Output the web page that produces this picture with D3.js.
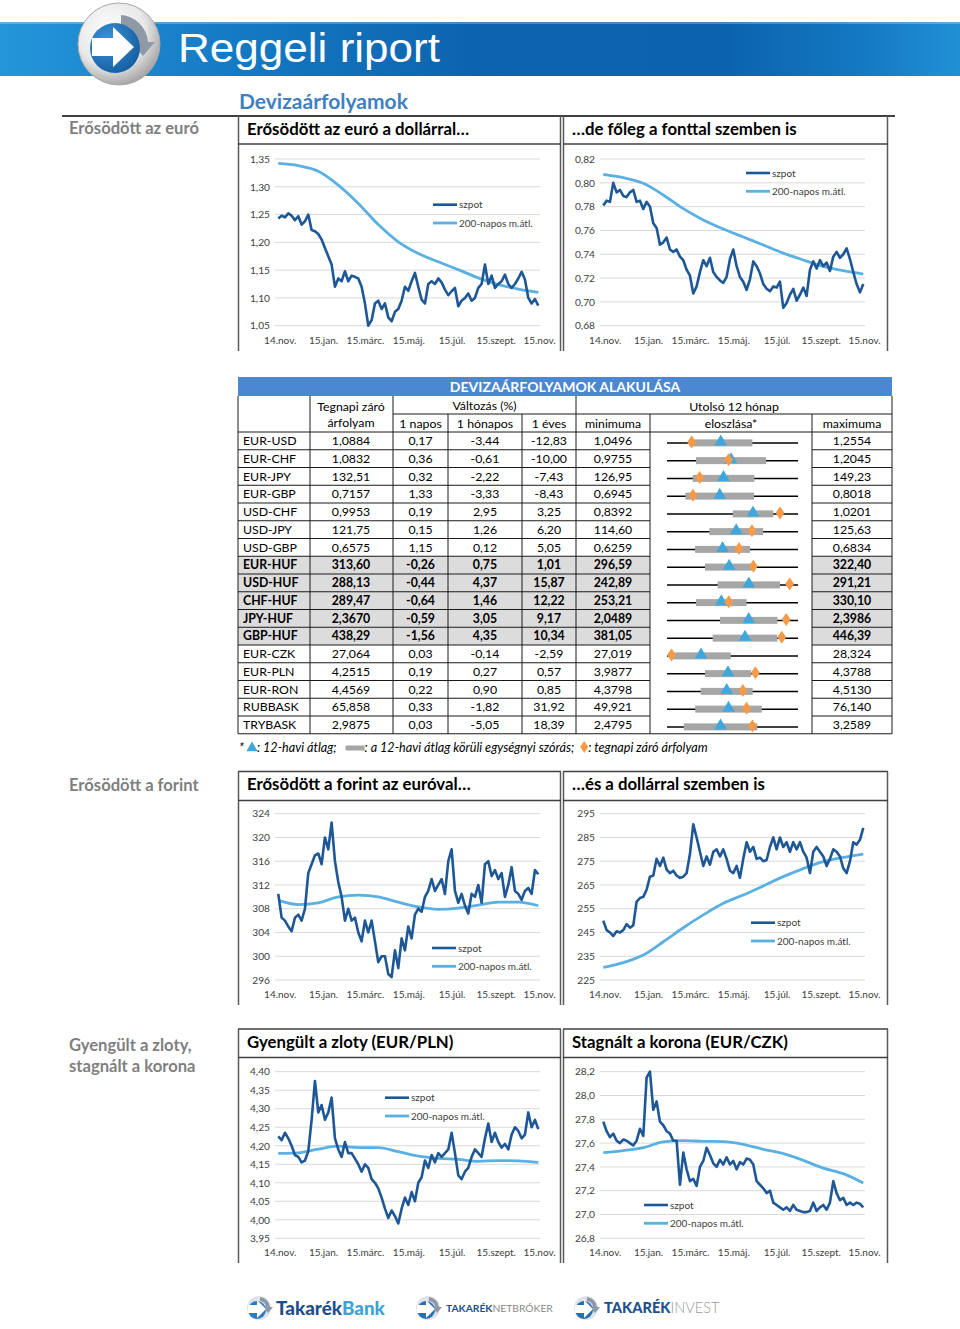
<!DOCTYPE html>
<html><head><meta charset="utf-8">
<script src="https://cdn.jsdelivr.net/npm/d3@7"></script>
<style>
body{margin:0;background:#fff;}
svg{display:block;font-family:Lato,'Open Sans',sans-serif;}
</style></head><body>
<svg id="page" width="960" height="1329"></svg>
<script>
// ===================== DATA =====================
const tickDates = ["2014-11-01","2015-01-01","2015-03-01","2015-05-01","2015-07-01","2015-09-01","2015-11-01"];
const tickLabels = ["14.nov.","15.jan.","15.márc.","15.máj.","15.júl.","15.szept.","15.nov."];
const seriesNames = ["szpot","200-napos m.átl."];
const dataStart = "2014-10-30", dataEnd = "2015-10-31";

const eurusdTicks = [1.05,1.10,1.15,1.20,1.25,1.30,1.35];
const eurusdSpot = [1.243,1.248,1.245,1.252,1.248,1.240,1.247,1.232,1.238,1.250,1.222,1.220,1.215,1.205,1.190,1.175,1.160,1.120,1.135,1.130,1.148,1.130,1.140,1.138,1.135,1.120,1.090,1.050,1.060,1.090,1.095,1.080,1.090,1.065,1.058,1.075,1.080,1.095,1.120,1.113,1.130,1.145,1.120,1.097,1.090,1.125,1.130,1.125,1.135,1.128,1.115,1.105,1.112,1.118,1.085,1.095,1.100,1.108,1.095,1.100,1.118,1.125,1.160,1.125,1.140,1.118,1.125,1.130,1.142,1.125,1.118,1.125,1.135,1.147,1.133,1.100,1.090,1.098,1.086];
const eurusdMA = [1.342,1.338,1.328,1.303,1.270,1.232,1.201,1.180,1.165,1.151,1.136,1.124,1.116,1.110];

const eurgbpTicks = [0.68,0.70,0.72,0.74,0.76,0.78,0.80,0.82];
const eurgbpSpot = [0.781,0.785,0.784,0.800,0.792,0.794,0.789,0.788,0.792,0.794,0.784,0.785,0.778,0.784,0.780,0.766,0.762,0.748,0.750,0.754,0.744,0.742,0.744,0.738,0.735,0.727,0.722,0.707,0.713,0.725,0.735,0.730,0.737,0.725,0.721,0.718,0.716,0.721,0.736,0.744,0.730,0.721,0.717,0.710,0.719,0.734,0.730,0.724,0.715,0.711,0.709,0.713,0.712,0.717,0.695,0.699,0.706,0.711,0.701,0.706,0.712,0.705,0.727,0.734,0.728,0.735,0.730,0.733,0.726,0.738,0.742,0.737,0.740,0.745,0.736,0.725,0.715,0.708,0.715];
const eurgbpMA = [0.8071,0.8043,0.7996,0.7898,0.7783,0.7688,0.7612,0.7545,0.7478,0.7410,0.7352,0.7298,0.7262,0.7234];

const eurhufTicks = [296,300,304,308,312,316,320,324];
const eurhufSpot = [310.5,306.5,306,305,304.2,306.5,307,306,308,314,315.5,317,317.3,315.5,320,318,322.5,316,312.5,310,306,308,306,306.5,304,302.5,306,304,306,302.5,299,300,300,297,296.5,301,298,303,301,305,303,307,308,307.5,310,311,313,311,312,313,310.5,316,318,311,309,310.5,308.5,307.2,310.5,310,312,309,315.5,316,313.5,314.5,313,314,310,312,315,311,310.5,309.5,311,311.5,310.5,314.5,313.8];
const eurhufMA = [309.4,308.7,309.0,310.0,310.3,310.0,309.1,308.3,307.9,308.1,308.6,309.1,309.1,308.5];

const usdhufTicks = [225,235,245,255,265,275,285,295];
const usdhufSpot = [250,246,245,243.5,245.5,245,246,248.5,247,248,258,259.5,260,263,268.5,269,276,273,276.5,271.5,270,271,269,268,268.5,270,278,290.5,285,279,273,277,273.5,279,280,277,280,276,271,270,273,268,276,283,279,281,276,276.5,275,275.5,281,285,280,285,281,283,279,283,280,283,279,276.5,270,279,281,279,277,273,276,280,279,277,272,270,275,283,282,284,289];
const usdhufMA = [230.3,232.3,235.5,241.1,247.0,252.4,257.3,260.8,264.6,268.5,271.9,274.8,276.6,278.0];

const eurplnTicks = [3.95,4.00,4.05,4.10,4.15,4.20,4.25,4.30,4.35,4.40];
const eurplnSpot = [4.225,4.215,4.235,4.220,4.200,4.175,4.170,4.155,4.160,4.185,4.270,4.375,4.290,4.310,4.270,4.290,4.330,4.220,4.190,4.170,4.210,4.180,4.180,4.165,4.150,4.130,4.150,4.140,4.110,4.100,4.085,4.060,4.030,4.005,4.025,4.010,3.990,4.030,4.060,4.040,4.075,4.050,4.100,4.115,4.160,4.140,4.175,4.155,4.180,4.170,4.180,4.190,4.235,4.180,4.120,4.110,4.130,4.140,4.170,4.190,4.180,4.170,4.220,4.260,4.210,4.235,4.210,4.195,4.205,4.190,4.230,4.250,4.240,4.220,4.230,4.290,4.250,4.270,4.245];
const eurplnMA = [4.1795,4.181,4.191,4.199,4.195,4.195,4.184,4.172,4.166,4.163,4.158,4.160,4.159,4.155];

const eurczkTicks = [26.8,27.0,27.2,27.4,27.6,27.8,28.0,28.2];
const eurczkSpot = [27.78,27.70,27.65,27.68,27.62,27.60,27.63,27.62,27.60,27.58,27.62,27.72,27.66,28.15,28.20,27.88,27.95,27.78,27.75,27.70,27.68,27.62,27.62,27.25,27.52,27.38,27.28,27.30,27.24,27.40,27.45,27.56,27.50,27.43,27.40,27.46,27.42,27.48,27.42,27.45,27.38,27.44,27.42,27.47,27.46,27.42,27.28,27.25,27.22,27.18,27.20,27.10,27.08,27.06,27.04,27.06,27.03,27.08,27.04,27.03,27.02,27.02,27.03,27.10,27.03,27.06,27.08,27.04,27.10,27.28,27.18,27.12,27.14,27.08,27.10,27.08,27.10,27.09,27.06];
const eurczkMA = [27.520,27.537,27.562,27.610,27.621,27.615,27.613,27.590,27.548,27.511,27.455,27.390,27.343,27.264];

// table
const pairs = ["EUR-USD","EUR-CHF","EUR-JPY","EUR-GBP","USD-CHF","USD-JPY","USD-GBP","EUR-HUF","USD-HUF","CHF-HUF","JPY-HUF","GBP-HUF","EUR-CZK","EUR-PLN","EUR-RON","RUBBASK","TRYBASK"];
const boldPairs = ["EUR-HUF","USD-HUF","CHF-HUF","JPY-HUF","GBP-HUF"];
const closeVals = [1.0884,1.0832,132.51,0.7157,0.9953,121.75,0.6575,313.60,288.13,289.47,2.3670,438.29,27.064,4.2515,4.4569,65.858,2.9875];
const decimals = [4,4,2,4,4,2,4,2,2,2,4,2,3,4,4,3,4];
const chg1d = [0.17,0.36,0.32,1.33,0.19,0.15,1.15,-0.26,-0.44,-0.64,-0.59,-1.56,0.03,0.19,0.22,0.33,0.03];
const chg1m = [-3.44,-0.61,-2.22,-3.33,2.95,1.26,0.12,0.75,4.37,1.46,3.05,4.35,-0.14,0.27,0.90,-1.82,-5.05];
const chg1y = [-12.83,-10.00,-7.43,-8.43,3.25,6.20,5.05,1.01,15.87,12.22,9.17,10.34,-2.59,0.57,0.85,31.92,18.39];
const minVals = [1.0496,0.9755,126.95,0.6945,0.8392,114.60,0.6259,296.59,242.89,253.21,2.0489,381.05,27.019,3.9877,4.3798,49.921,2.4795];
const maxVals = [1.2554,1.2045,149.23,0.8018,1.0201,125.63,0.6834,322.40,291.21,330.10,2.3986,446.39,28.324,4.3788,4.5130,76.140,3.2589];
const avgVals = [1.134,1.0874,136.56,0.7377,0.958,120.43,0.6503,308.84,273.06,285.08,2.267,419.95,27.358,4.1698,4.4405,62.23,2.7978];
const sdVals = [0.0497,0.0612,5.24,0.0281,0.028,2.27,0.01207,4.77,11.51,14.85,0.0766,16.11,0.296,0.0687,0.0264,6.66,0.2184];

// ===================== DRAW =====================
const loc = d3.formatLocale({decimal:",",thousands:" ",grouping:[3],currency:["",""],minus:"-"});
const parse = d3.timeParse("%Y-%m-%d");
const svg = d3.select("#page");
const defs = svg.append("defs");
const SPOT = "#1d5796", MA = "#5ab0e2", AX = "#404040";

// header band
const bg = defs.append("linearGradient").attr("id","band");
[[0,"#2596da"],[0.25,"#1479c3"],[0.5,"#0d63ad"],[0.75,"#0c62ac"],[0.9,"#1479c2"],[1,"#2290d5"]]
  .forEach(([o,c])=>bg.append("stop").attr("offset",o).attr("stop-color",c));
svg.append("rect").attr("x",0).attr("y",22).attr("width",960).attr("height",54).attr("fill","url(#band)");
svg.append("rect").attr("x",0).attr("y",22).attr("width",960).attr("height",2).attr("fill","#ffffff").attr("opacity",0.25);

// logo
const rg = defs.append("radialGradient").attr("id","ring").attr("cx","40%").attr("cy","35%").attr("r","70%");
[[0,"#ffffff"],[0.6,"#e9e9e9"],[1,"#9c9c9c"]].forEach(([o,c])=>rg.append("stop").attr("offset",o).attr("stop-color",c));
const dg = defs.append("radialGradient").attr("id","disc").attr("cx","35%").attr("cy","35%").attr("r","75%");
[[0,"#3f95d8"],[1,"#135a9e"]].forEach(([o,c])=>dg.append("stop").attr("offset",o).attr("stop-color",c));
const logo = svg.append("g").attr("transform","translate(119,44)");
logo.append("circle").attr("r",41).attr("fill","url(#ring)").attr("stroke","#a8a8a8").attr("stroke-width",1);
logo.append("path").attr("d","M 2 -29 A 29 29 0 0 1 29 -2 L 36 -2 L 24 12 L 12 -2 L 19 -2 A 19 19 0 0 0 2 -19 Z").attr("fill","#8f9aa6");
logo.append("circle").attr("cx",-4).attr("cy",4).attr("r",25).attr("fill","url(#disc)");
logo.append("path").attr("d","M -27 -6 L -6 -6 L -6 -17 L 15 3 L -6 23 L -6 12 L -27 12 Z").attr("fill","#ffffff");
svg.append("text").attr("x",178).attr("y",62).attr("fill","#fff").attr("font-family","'Liberation Sans',Arial,sans-serif")
  .attr("font-size",41).attr("textLength",262).attr("lengthAdjust","spacingAndGlyphs").text("Reggeli riport");

// section header
svg.append("text").attr("x",239).attr("y",109).attr("fill","#3f7fc2").attr("font-weight","bold").attr("font-size",21).text("Devizaárfolyamok");
svg.append("line").attr("x1",62).attr("x2",895).attr("y1",116).attr("y2",116).attr("stroke","#404040").attr("stroke-width",2);

const sideLabels = [["Erősödött az euró",128],["Erősödött a forint",785],["Gyengült a zloty,",1045],["stagnált a korona",1066]];
sideLabels.forEach(([t,y])=>svg.append("text").attr("x",69).attr("y",y).attr("dy","0.35em").attr("fill","#7f7f7f")
  .attr("font-weight","bold").attr("font-size",16.6).text(t));

const sections = [
  {panelTop:116, titleY:129, sepY:144, plotTop:159, plotBottom:325.7, xLabelY:340},
  {panelTop:771.5, titleY:784.5, sepY:800.5, plotTop:813.7, plotBottom:980, xLabelY:994},
  {panelTop:1029, titleY:1042, sepY:1057.5, plotTop:1071.7, plotBottom:1238.3, xLabelY:1252}
];
const charts = [
  {sec:0,x0:238,title:"Erősödött az euró a dollárral…",spot:eurusdSpot,ma:eurusdMA,ticks:eurusdTicks,fmt:".2f",lx:195,ly:204.7},
  {sec:0,x0:563,title:"…de főleg a fonttal szemben is",spot:eurgbpSpot,ma:eurgbpMA,ticks:eurgbpTicks,fmt:".2f",lx:183,ly:173},
  {sec:1,x0:238,title:"Erősödött a forint az euróval…",spot:eurhufSpot,ma:eurhufMA,ticks:eurhufTicks,fmt:"d",lx:194,ly:948},
  {sec:1,x0:563,title:"…és a dollárral szemben is",spot:usdhufSpot,ma:usdhufMA,ticks:usdhufTicks,fmt:"d",lx:188,ly:922.7},
  {sec:2,x0:238,title:"Gyengült a zloty (EUR/PLN)",spot:eurplnSpot,ma:eurplnMA,ticks:eurplnTicks,fmt:".2f",lx:147,ly:1097.7},
  {sec:2,x0:563,title:"Stagnált a korona (EUR/CZK)",spot:eurczkSpot,ma:eurczkMA,ticks:eurczkTicks,fmt:".1f",lx:81,ly:1205}
];

const d0 = parse(dataStart), d1 = parse(dataEnd);
function datesFor(n){ return d3.range(n).map(i=>new Date(+d0 + i*(d1-d0)/(n-1))); }

charts.forEach(c=>{
  const s = sections[c.sec];
  const g = svg.append("g");
  const w = c.x0===238 ? 323 : 325;
  if(c.sec>0) g.append("line").attr("x1",c.x0).attr("x2",c.x0+w).attr("y1",s.panelTop).attr("y2",s.panelTop).attr("stroke","#404040").attr("stroke-width",1.5);
  g.append("line").attr("x1",c.x0+0.5).attr("x2",c.x0+0.5).attr("y1",s.panelTop).attr("y2",s.xLabelY+11).attr("stroke","#595959").attr("stroke-width",1.5);
  g.append("line").attr("x1",c.x0+w-0.5).attr("x2",c.x0+w-0.5).attr("y1",s.panelTop).attr("y2",s.xLabelY+11).attr("stroke","#595959").attr("stroke-width",1.5);
  g.append("line").attr("x1",c.x0).attr("x2",c.x0+w).attr("y1",s.sepY).attr("y2",s.sepY).attr("stroke","#404040").attr("stroke-width",1.5);
  g.append("text").attr("x",c.x0+9).attr("y",s.titleY).attr("dy","0.35em").attr("font-weight","bold").attr("font-size",16.8).attr("fill","#000").text(c.title);

  const x = d3.scaleTime().domain([parse(tickDates[0]),parse(tickDates[6])]).range([c.x0+41.7,c.x0+301]);
  const y = d3.scaleLinear().domain([c.ticks[0],c.ticks[c.ticks.length-1]]).range([s.plotBottom,s.plotTop]);
  g.selectAll(null).data(c.ticks).join("line").attr("x1",c.x0+37).attr("x2",c.x0+302)
    .attr("y1",d=>y(d)).attr("y2",d=>y(d)).attr("stroke","#d9d9d9").attr("stroke-width",1);
  const ya = g.append("g").attr("transform",`translate(${c.x0+32},0)`)
    .call(d3.axisLeft(y).tickValues(c.ticks).tickFormat(loc.format(c.fmt)).tickSize(0).tickPadding(0));
  ya.select(".domain").remove();
  ya.selectAll("text").attr("font-family","Lato,sans-serif").attr("font-size",10.2).attr("fill",AX);
  const xa = g.append("g").attr("transform",`translate(0,${s.xLabelY})`)
    .call(d3.axisBottom(x).tickValues(tickDates.map(parse)).tickFormat((d,i)=>tickLabels[i]).tickSize(0).tickPadding(0));
  xa.select(".domain").remove();
  xa.selectAll("text").attr("y",0).attr("dy","0.35em").attr("font-family","Lato,sans-serif").attr("font-size",10).attr("fill",AX);

  const spotD = datesFor(c.spot.length), maD = datesFor(c.ma.length);
  g.append("path").datum(c.ma).attr("fill","none").attr("stroke",MA).attr("stroke-width",2.8)
    .attr("d",d3.line().x((d,i)=>x(maD[i])).y(d=>y(d)).curve(d3.curveMonotoneX));
  g.append("path").datum(c.spot).attr("fill","none").attr("stroke",SPOT).attr("stroke-width",2.6).attr("stroke-linejoin","round")
    .attr("d",d3.line().x((d,i)=>x(spotD[i])).y(d=>y(d)));
  [SPOT,MA].forEach((col,i)=>{
    const ly = c.ly + i*18.3;
    g.append("line").attr("x1",c.x0+c.lx).attr("x2",c.x0+c.lx+24).attr("y1",ly).attr("y2",ly).attr("stroke",col).attr("stroke-width",i?2.8:2.6);
    g.append("text").attr("x",c.x0+c.lx+26).attr("y",ly).attr("dy","0.35em").attr("font-size",10).attr("fill",AX).text(seriesNames[i]);
  });
});

// ===================== TABLE =====================
const T = {x0:238,x1:892,top:377,bar:396,r3:414,data:432,rowH:17.75};
const cols = [238,310,393,448,522,576,650,812,892];
const tbl = svg.append("g");
const bottom = T.data + pairs.length*T.rowH;
tbl.append("rect").attr("x",T.x0).attr("y",T.top).attr("width",T.x1-T.x0).attr("height",T.bar-T.top).attr("fill","#4c87d2");
tbl.append("text").attr("x",565).attr("y",(T.top+T.bar)/2).attr("dy","0.36em").attr("text-anchor","middle")
  .attr("fill","#fff").attr("font-weight","bold").attr("font-size",14).text("DEVIZAÁRFOLYAMOK ALAKULÁSA");
pairs.forEach((p,i)=>{
  if(!boldPairs.includes(p)) return;
  const yy = T.data + i*T.rowH;
  [[238,650],[812,892]].forEach(([a,b])=>tbl.append("rect").attr("x",a).attr("y",yy).attr("width",b-a).attr("height",T.rowH).attr("fill","#dcdcdc"));
});
const L = (x1,y1,x2,y2,w)=>tbl.append("line").attr("x1",x1).attr("y1",y1).attr("x2",x2).attr("y2",y2).attr("stroke","#1a1a1a").attr("stroke-width",w||1);
[238,310,393,576,892].forEach(x=>L(x,T.bar,x,T.data));
[448,522,650,812].forEach(x=>L(x,T.r3,x,T.data));
L(393,T.r3,892,T.r3);
L(238,T.data,892,T.data);
cols.forEach(x=>L(x,T.data,x,bottom));
d3.range(1,pairs.length+1).forEach(k=>{
  const yy = T.data + k*T.rowH;
  L(238,yy,650,yy); L(812,yy,892,yy);
  if(k===pairs.length) L(650,yy,812,yy);
});
const HT = (x,y,t)=>tbl.append("text").attr("x",x).attr("y",y).attr("dy","0.35em").attr("text-anchor","middle").attr("font-size",12.3).attr("fill","#000").text(t);
HT(351,406.5,"Tegnapi záró"); HT(351,423,"árfolyam");
HT(484.5,405.5,"Változás (%)"); HT(734,406.5,"Utolsó 12 hónap");
HT(420.5,423.5,"1 napos"); HT(485,423.5,"1 hónapos"); HT(549,423.5,"1 éves");
HT(613,423.5,"minimuma"); HT(731,423.5,"eloszlása*"); HT(852,423.5,"maximuma");
const f2 = loc.format(".2f");
pairs.forEach((p,i)=>{
  const cy = T.data + (i+0.5)*T.rowH;
  const b = boldPairs.includes(p);
  const fd = loc.format("."+decimals[i]+"f");
  const cells = [[351,fd(closeVals[i])],[420.5,f2(chg1d[i])],[485,f2(chg1m[i])],[549,f2(chg1y[i])],[613,fd(minVals[i])],[852,fd(maxVals[i])]];
  tbl.append("text").attr("x",243).attr("y",cy).attr("dy","0.35em").attr("font-size",12.3).attr("font-weight",b?"bold":"normal").text(p);
  cells.forEach(([x,t])=>tbl.append("text").attr("x",x).attr("y",cy).attr("dy","0.35em").attr("text-anchor","middle")
    .attr("font-size",12.3).attr("font-weight",b?"bold":"normal").text(t));
  const sx = d3.scaleLinear().domain([minVals[i],maxVals[i]]).range([667,798]);
  const ly = cy + 2;
  tbl.append("line").attr("x1",667).attr("x2",798).attr("y1",ly).attr("y2",ly).attr("stroke","#000").attr("stroke-width",1.5);
  tbl.append("rect").attr("x",sx(avgVals[i]-sdVals[i])).attr("y",ly-3.5).attr("width",sx(avgVals[i]+sdVals[i])-sx(avgVals[i]-sdVals[i]))
    .attr("height",7).attr("fill","#a6a6a6");
  tbl.append("path").attr("d",d3.symbol(d3.symbolTriangle,70)()).attr("transform",`translate(${sx(avgVals[i])},${ly-1})`).attr("fill","#3fa7dc");
  tbl.append("path").attr("d","M0,-6.5 L4.5,0 L0,6.5 L-4.5,0 Z").attr("transform",`translate(${sx(closeVals[i])},${ly-1})`).attr("fill","#f59a48");
});
// footnote
const fy = 748;
const fg = svg.append("g").attr("font-size",12.6).attr("font-style","italic").attr("fill","#000");
let fx = 239;
function ftext(t){ const el = fg.append("text").attr("x",fx).attr("y",fy).attr("dy","0.35em").text(t); fx += el.node().getComputedTextLength(); }
ftext("*"); fx += 8;
fg.append("path").attr("d",d3.symbol(d3.symbolTriangle,55)()).attr("transform",`translate(${fx},${fy})`).attr("fill","#3fa7dc"); fx+=5;
ftext(": 12-havi átlag;"); fx += 9;
fg.append("rect").attr("x",fx).attr("y",fy-2.5).attr("width",19).attr("height",5).attr("fill","#a6a6a6"); fx+=19;
ftext(": a 12-havi átlag körüli egységnyi szórás;"); fx += 6;
fg.append("path").attr("d","M0,-6 L4,0 L0,6 L-4,0 Z").attr("transform",`translate(${fx+4},${fy-1})`).attr("fill","#f59a48"); fx+=8;
ftext(": tegnapi záró árfolyam");

// ===================== FOOTER LOGOS =====================
function icon(cx,cy,col){
  const g = svg.append("g").attr("transform",`translate(${cx},${cy})`);
  g.append("circle").attr("r",12).attr("fill","#dfe3e8");
  g.append("path").attr("d","M 1 -11 A 11 11 0 0 1 11 -1 L 14 -1 L 9 5 L 4 -1 L 7 -1 A 7 7 0 0 0 1 -7 Z").attr("fill","#8d99a6");
  g.append("circle").attr("cx",-2).attr("cy",2).attr("r",9).attr("fill",col);
  g.append("path").attr("d","M -11 -3 L -2 -3 L -2 -8 L 7 1 L -2 10 L -2 5 L -11 5 Z").attr("fill","#fff");
}
icon(259,1308,"#2a7cc0"); icon(428,1308,"#2a6fb0"); icon(586,1308,"#2a6fb0");
const ft1 = svg.append("text").attr("x",276).attr("y",1308).attr("dy","0.35em").attr("font-weight","900").attr("font-size",18.8);
ft1.append("tspan").attr("fill","#1d4f8c").text("Takarék"); ft1.append("tspan").attr("fill","#3aa3d6").text("Bank");
const ft2 = svg.append("text").attr("x",446).attr("y",1308).attr("dy","0.35em").attr("font-size",10.3);
ft2.append("tspan").attr("fill","#1d4f8c").attr("font-weight","bold").text("TAKARÉK"); ft2.append("tspan").attr("fill","#8a8a8a").text("NETBRÓKER");
const ft3 = svg.append("text").attr("x",604).attr("y",1308).attr("dy","0.35em").attr("font-size",14.6);
ft3.append("tspan").attr("fill","#1d4f8c").attr("font-weight","900").text("TAKARÉK"); ft3.append("tspan").attr("fill","#9a9a9a").attr("font-weight","300").text("INVEST");
</script>
</body></html>
